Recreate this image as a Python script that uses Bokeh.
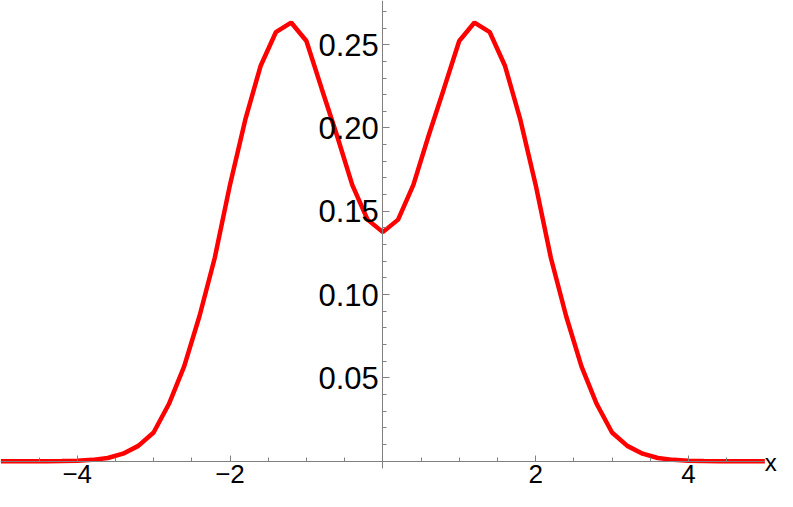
from bokeh.plotting import figure
from bokeh.models import FixedTicker, Label, Range1d
from bokeh.embed import file_html
from bokeh.resources import INLINE

# Curve samples (symmetric two-hump curve)
x_values = [-5.0, -4.8, -4.6, -4.4, -4.2, -4.0, -3.8, -3.6, -3.4, -3.2,
            -3.0, -2.8, -2.6, -2.4, -2.2, -2.0, -1.8, -1.6, -1.4, -1.2,
            -1.0, -0.8, -0.6, -0.4, -0.2, 0.0, 0.2, 0.4, 0.6, 0.8,
            1.0, 1.2, 1.4, 1.6, 1.8, 2.0, 2.2, 2.4, 2.6, 2.8,
            3.0, 3.2, 3.4, 3.6, 3.8, 4.0, 4.2, 4.4, 4.6, 4.8, 5.0]
y_values = [0.0, 0.0, 0.0, 0.0, 0.0001, 0.0003, 0.0008, 0.0019, 0.0045, 0.0092,
            0.0172, 0.0343, 0.0569, 0.0870, 0.1220, 0.1660, 0.2050, 0.2372, 0.2575, 0.2633,
            0.2522, 0.2236, 0.1955, 0.1659, 0.1450, 0.1375, 0.1450, 0.1659, 0.1955, 0.2236,
            0.2522, 0.2633, 0.2575, 0.2372, 0.2050, 0.1660, 0.1220, 0.0870, 0.0569, 0.0343,
            0.0172, 0.0092, 0.0045, 0.0019, 0.0008, 0.0003, 0.0001, 0.0, 0.0, 0.0, 0.0]

x_ticks = [-4, -2, 2, 4]
x_tick_labels = ["\u22124", "\u22122", "2", "4"]
x_minor = [-4.5, -3.5, -3.0, -2.5, -1.5, -1.0, -0.5, 0.5, 1.0, 1.5, 2.5, 3.0, 3.5, 4.5]
y_ticks = [0.05, 0.10, 0.15, 0.20, 0.25]
y_tick_labels = ["0.05", "0.10", "0.15", "0.20", "0.25"]
y_minor = [0.01, 0.02, 0.03, 0.04, 0.06, 0.07, 0.08, 0.09, 0.11, 0.12, 0.13, 0.14,
           0.16, 0.17, 0.18, 0.19, 0.21, 0.22, 0.23, 0.24, 0.26, 0.27]
axis_name = "x"

p = figure(width=777, height=491, output_backend="svg", toolbar_location=None,
           x_range=Range1d(-5.004, 5.166), y_range=Range1d(-0.018187, 0.27653),
           min_border=0)
p.outline_line_color = None
p.border_fill_color = "white"
p.xgrid.visible = False
p.ygrid.visible = False
p.background_fill_color = "white"

p.line(x_values, y_values, line_color="#ff0000", line_width=4.5)

axcol = "#808080"
for ax in (p.xaxis[0], p.yaxis[0]):
    ax.fixed_location = 0
    ax.axis_line_color = axcol
    ax.major_tick_line_color = axcol
    ax.minor_tick_line_color = axcol
    ax.major_tick_out = 0
    ax.minor_tick_out = 0
    ax.major_label_text_font = "Liberation Sans"
    ax.major_label_text_color = "black"

p.xaxis.ticker = FixedTicker(ticks=x_ticks, minor_ticks=x_minor)
p.xaxis.major_label_overrides = {t: l for t, l in zip(x_ticks, x_tick_labels)}
p.xaxis.major_label_text_font_size = "26px"
p.xaxis.major_tick_in = 6
p.xaxis.minor_tick_in = 4
p.xaxis.major_label_standoff = 4
p.xaxis.bounds = (-5, 5)

p.yaxis.ticker = FixedTicker(ticks=y_ticks, minor_ticks=y_minor)
p.yaxis.major_label_overrides = {t: l for t, l in zip(y_ticks, y_tick_labels)}
p.yaxis.major_label_text_font_size = "31px"
p.yaxis.major_tick_in = 7
p.yaxis.minor_tick_in = 4
p.yaxis.major_label_standoff = 4
p.yaxis.bounds = (-0.0045, 0.28)

p.add_layout(Label(x=5.0, y=-0.0005, text=axis_name, text_font="Liberation Sans",
                   text_font_size="24px", text_align="left", text_baseline="middle",
                   text_color="black"))

open("out.html", "w").write(file_html(p, INLINE))
